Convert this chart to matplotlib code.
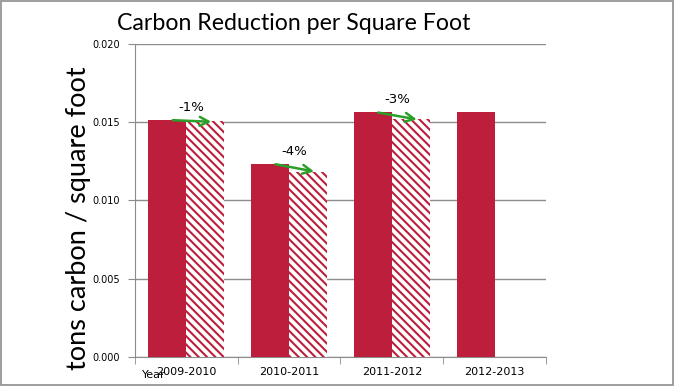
import matplotlib
matplotlib.use("Agg")
import matplotlib.pyplot as plt
import numpy as np

categories = ["2009-2010", "2010-2011", "2011-2012", "2012-2013"]
actual = [0.01514, 0.01235, 0.01565, 0.01565]
normalized = [0.01505, 0.01185, 0.01518, None]
pct_labels = ["-1%", "-4%", "-3%"]
yticks = [0.000, 0.005, 0.010, 0.015, 0.020]

bar_color = "#BC1E3B"
plt.rcParams['hatch.linewidth'] = 1.5
plt.rcParams['font.family'] = ['DejaVu Sans']

fig = plt.figure(figsize=(6.74, 3.86), dpi=100)
ax = fig.add_axes([0.2003, 0.0751, 0.6097, 0.811])

x = np.arange(len(categories))
w = 0.37
ax.bar(x - w / 2, actual, width=w, color=bar_color, zorder=3)
for i, v in enumerate(normalized):
    if v is not None:
        ax.bar(i + w / 2, v, width=w, color="white", edgecolor=bar_color,
               hatch="\\" * 4, linewidth=0, zorder=3)

# arrows and percentage labels
for i, lab in enumerate(pct_labels):
    y0 = actual[i]
    y1 = normalized[i]
    ax.annotate("", xy=(i + 0.27, y1 - 0.00003), xytext=(i - 0.16, y0),
                arrowprops=dict(arrowstyle="->", color="#2AA02A", lw=1.8,
                                mutation_scale=16), zorder=5)
    ax.text(i + 0.05, max(y0, y1) + 0.0008, lab, ha="center", va="center",
            fontsize=9.5, zorder=6)

ax.set_xlim(-0.5, len(categories) - 0.5)
ax.set_ylim(0, 0.020)
ax.set_yticks(yticks)
ax.set_yticklabels([f"{t:.3f}" for t in yticks], fontsize=7)
ax.yaxis.grid(True, color="#8C8C8C", linewidth=1.0, zorder=0)
ax.set_axisbelow(True)

ax.set_xticks(x)
ax.set_xticklabels(categories, fontsize=8)
ax.set_xticks(np.arange(-0.5, len(categories) + 0.5, 1), minor=True)
ax.tick_params(axis="x", which="major", length=0, pad=7)
ax.tick_params(axis="x", which="minor", length=5, color="#8C8C8C")
ax.tick_params(axis="y", length=5, color="#8C8C8C", pad=6)

for s in ["top", "right"]:
    ax.spines[s].set_visible(False)
for s in ["left", "bottom"]:
    ax.spines[s].set_color("#8C8C8C")

fig.text(0.116, 0.435, "tons carbon / square foot", rotation=90,
         ha="center", va="center", fontsize=19.5, family=["Lato", "DejaVu Sans"])
fig.text(0.435, 0.94, "Carbon Reduction per Square Foot", ha="center",
         va="center", fontsize=16.7, family=["Lato", "DejaVu Sans"])
fig.text(0.211, 0.028, "Year", fontsize=8, ha="left", va="center")

# figure border
fig.patches.append(plt.Rectangle((0.0015, 0.0025), 0.997, 0.995,
                                 transform=fig.transFigure, fill=False,
                                 edgecolor="#8C8C8C", linewidth=1.2))

fig.savefig("out.png", dpi=100)
